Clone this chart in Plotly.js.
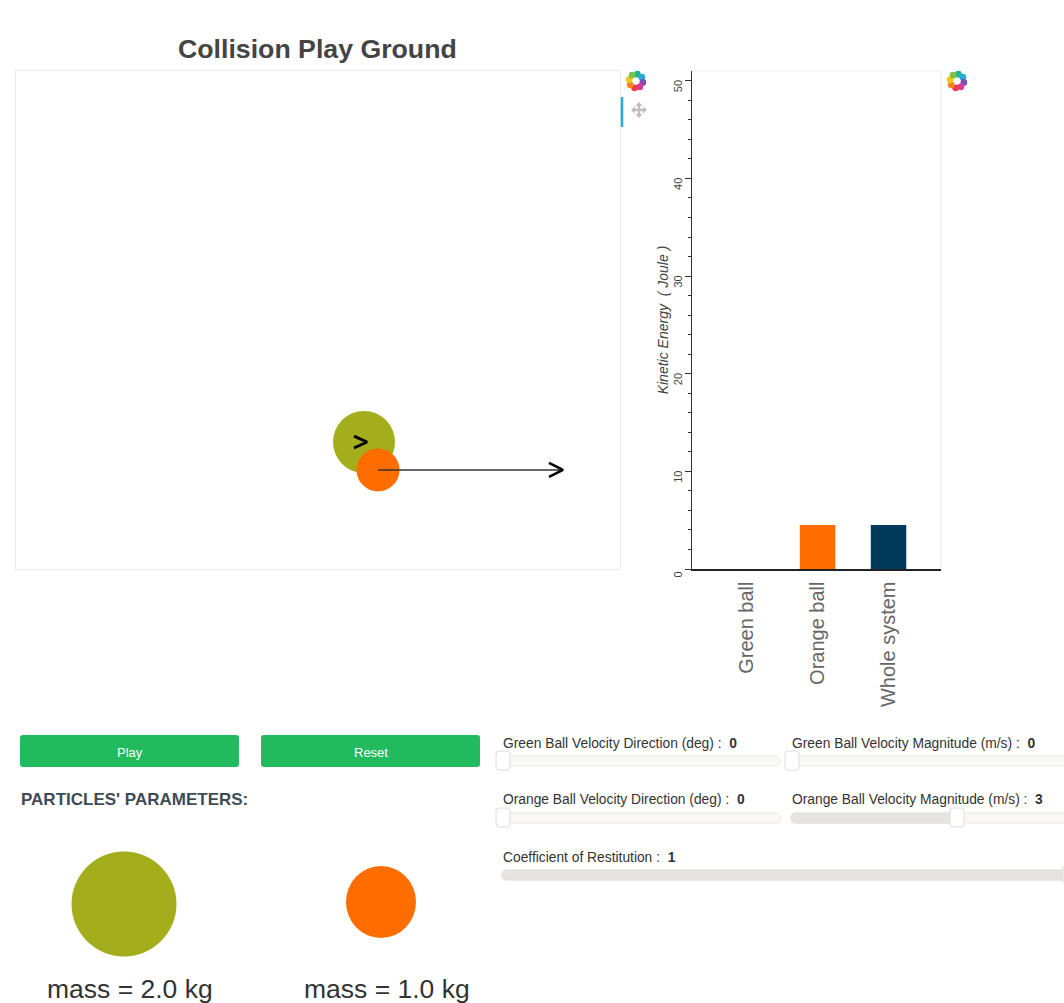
<!DOCTYPE html>
<html>
<head>
<meta charset="utf-8">
<script src="https://cdn.plot.ly/plotly-3.0.1.min.js"></script>
<style>html,body{margin:0;padding:0;background:#fff;overflow:hidden}#chart{width:1064px;height:1003px}</style>
</head>
<body>
<div id="chart"></div>
<script>
// ---- data ----
const categories = ['Green ball', 'Orange ball', 'Whole system'];
const kineticEnergy = [0, 4.5, 4.5];
const barColors = ['#A4AD1C', '#FF6C00', '#00395A'];
const greenBallX = [6.97];
const greenBallY = [2.55];
const orangeBallX = [7.25];
const orangeBallY = [1.99];
const orangeArrowX = [7.25, 10.93];
const orangeArrowY = [1.99, 1.99];
const orangeHeadX = [10.67, 10.95, 10.67];
const orangeHeadY = [2.13, 1.99, 1.85];
const greenHeadX = [6.77, 7.03, 6.77];
const greenHeadY = [2.67, 2.55, 2.43];
const yTicks = [0, 10, 20, 30, 40, 50];

const W = 1064, H = 1003;
const GREEN = '#A4AD1C', ORANGE = '#FF6C00';
const FONT = 'Liberation Sans, Arial, sans-serif';
const px = x => x / W, py = y => 1 - y / H;

function circle(cx, cy, rx, ry, color) {
  return {type:'circle', xref:'paper', yref:'paper', x0:px(cx-rx), x1:px(cx+rx), y0:py(cy+ry), y1:py(cy-ry),
          fillcolor:color, line:{width:0}, layer:'above'};
}
function rrect(x0, y0, x1, y1, r, fill, stroke) {
  const X = px, Y = py;
  const p = 'M' + X(x0+r) + ',' + Y(y0) + ' L' + X(x1-r) + ',' + Y(y0) +
    ' Q' + X(x1) + ',' + Y(y0) + ' ' + X(x1) + ',' + Y(y0+r) +
    ' L' + X(x1) + ',' + Y(y1-r) + ' Q' + X(x1) + ',' + Y(y1) + ' ' + X(x1-r) + ',' + Y(y1) +
    ' L' + X(x0+r) + ',' + Y(y1) + ' Q' + X(x0) + ',' + Y(y1) + ' ' + X(x0) + ',' + Y(y1-r) +
    ' L' + X(x0) + ',' + Y(y0+r) + ' Q' + X(x0) + ',' + Y(y0) + ' ' + X(x0+r) + ',' + Y(y0) + ' Z';
  return {type:'path', xref:'paper', yref:'paper', path:p, fillcolor:fill,
          line:{color:stroke || fill, width:stroke ? 1 : 0}, layer:'above'};
}
function seg(x0, y0, x1, y1, color, width) {
  return {type:'line', xref:'paper', yref:'paper', x0:px(x0), x1:px(x1), y0:py(y0), y1:py(y1),
          line:{color:color, width:width}, layer:'above'};
}
function tri(a, b, c, color) {
  const p = 'M' + px(a[0]) + ',' + py(a[1]) + ' L' + px(b[0]) + ',' + py(b[1]) + ' L' + px(c[0]) + ',' + py(c[1]) + ' Z';
  return {type:'path', xref:'paper', yref:'paper', path:p, fillcolor:color, line:{width:0}, layer:'above'};
}
function label(x, y, text, size, color, anchor, extra) {
  return Object.assign({xref:'paper', yref:'paper', x:px(x), y:py(y), text:text, showarrow:false,
    xanchor:anchor || 'left', yanchor:'middle', borderpad:0, font:{family:FONT, size:size, color:color}}, extra || {});
}
const logoColors = ['#1FB29A', '#2AA9D6', '#7B4FB0', '#D93A9A', '#EE3A4C', '#F7861E', '#F4C51F', '#7FC241'];
function logo(cx, cy) {
  return logoColors.map((c, i) => {
    const a = -Math.PI / 2 + i * Math.PI / 4 + 0.2;
    return circle(cx + 7 * Math.cos(a), cy + 7 * Math.sin(a), 3.4, 3.4, c);
  });
}
function slider(x0, x1, y, handle, filled) {
  const out = [rrect(x0, y-5, x1, y+5, 5, '#FAF9F7', '#E8E6E2')];
  if (filled) out.push(rrect(x0, y-5, handle, y+5, 5, '#E6E4E0', '#E2E0DC'));
  out.push(rrect(handle-7, y-10, handle+7, y+9, 3, '#FFFFFF', '#DEDCD8'));
  return out;
}

const traces = [
  {type:'scatter', mode:'markers', x:greenBallX, y:greenBallY, xaxis:'x', yaxis:'y',
   marker:{size:62, color:GREEN, line:{width:0}}},
  {type:'scatter', mode:'markers', x:orangeBallX, y:orangeBallY, xaxis:'x', yaxis:'y',
   marker:{size:43, color:ORANGE, line:{width:0}}},
  {type:'scatter', mode:'lines', x:orangeArrowX, y:orangeArrowY, xaxis:'x', yaxis:'y',
   line:{color:'#333', width:1.5}},
  {type:'scatter', mode:'lines', x:orangeHeadX, y:orangeHeadY, xaxis:'x', yaxis:'y',
   line:{color:'#000', width:2.5}},
  {type:'scatter', mode:'lines', x:greenHeadX, y:greenHeadY, xaxis:'x', yaxis:'y',
   line:{color:'#000', width:3}},
  {type:'bar', x:[0, 1, 2], y:kineticEnergy, xaxis:'x2', yaxis:'y2', width:0.5,
   marker:{color:barColors, line:{width:0}}}
];

const PAN = '#BDBDBD';
const shapes = [
  seg(622, 97, 622, 127, '#26AAE1', 2.5),
  seg(634, 110, 644, 110, PAN, 2.5),
  seg(639, 105, 639, 115, PAN, 2.5),
  tri([631, 110], [635, 106.5], [635, 113.5], PAN),
  tri([647, 110], [643, 106.5], [643, 113.5], PAN),
  tri([639, 102], [635.5, 106], [642.5, 106], PAN),
  tri([639, 118], [635.5, 114], [642.5, 114], PAN),
  seg(692, 71, 941, 71, '#EDEDED', 1),
  seg(941, 71, 941, 569, '#E6E6E6', 1)
].concat(
  logo(636, 81), logo(957, 81),
  [rrect(20, 735, 239, 767, 3, '#21BA5F'), rrect(261, 735, 480, 767, 3, '#21BA5F')],
  [circle(124, 904, 52.5, 52.5, GREEN), circle(381, 902, 35, 36, ORANGE)],
  slider(502, 780, 761, 503, false),
  slider(791, 1072, 761, 792, false),
  slider(502, 780, 818, 503, false),
  slider(791, 1072, 818, 957, true),
  slider(502, 1072, 875, 1070, true)
);

const LS = 13.8;
const annotations = [
  label(317.5, 49, '<b>Collision Play Ground</b>', 26.7, '#444', 'center'),
  label(129.5, 752, 'Play', 13, '#FFFFFF', 'center'),
  label(371, 752, 'Reset', 13, '#FFFFFF', 'center'),
  label(19.5, 799, "<b>PARTICLES' PARAMETERS:</b>", 17, '#3E4C57'),
  label(130, 989, 'mass = 2.0 kg', 26.5, '#333', 'center'),
  label(386.5, 989, 'mass = 1.0 kg', 26.5, '#333', 'center'),
  label(502, 743, 'Green Ball Velocity Direction (deg) :  <b>0</b>', LS, '#333'),
  label(791, 743, 'Green Ball Velocity Magnitude (m/s) :  <b>0</b>', LS, '#333'),
  label(502, 799, 'Orange Ball Velocity Direction (deg) :  <b>0</b>', LS, '#333'),
  label(791, 799, 'Orange Ball Velocity Magnitude (m/s) :  <b>3</b>', LS, '#333'),
  label(502, 857, 'Coefficient of Restitution :  <b>1</b>', LS, '#333')
];

const layout = {
  width:W, height:H, autosize:false, showlegend:false, hovermode:false,
  margin:{l:0, r:0, t:0, b:0, pad:0},
  paper_bgcolor:'#fff', plot_bgcolor:'#fff',
  font:{family:FONT},
  xaxis:{domain:[px(15.5), px(620)], range:[0, 12.09], anchor:'y', showgrid:false, zeroline:false,
         showticklabels:false, ticks:'', showline:true, mirror:true, linecolor:'#EAEAEA', linewidth:1},
  yaxis:{domain:[py(569), py(71)], range:[0, 10], anchor:'x', showgrid:false, zeroline:false,
         showticklabels:false, ticks:'', showline:true, mirror:true, linecolor:'#EAEAEA', linewidth:1},
  xaxis2:{domain:[px(692), px(941)], range:[-0.77, 2.74], anchor:'y2', showgrid:false, zeroline:false,
          tickmode:'array', tickvals:[0, 1, 2], ticktext:categories, tickangle:-90,
          ticks:'outside', ticklen:3, tickcolor:'rgba(0,0,0,0)',
          tickfont:{family:FONT, size:20, color:'#666'},
          showline:true, linecolor:'#222', linewidth:1.5},
  yaxis2:{domain:[py(569), py(71)], range:[0, 51], anchor:'x2', showgrid:false, zeroline:false,
          tickmode:'array', tickvals:yTicks, tickangle:-90, ticks:'outside', ticklen:6, tickcolor:'#333',
          minor:{dtick:2, ticks:'outside', ticklen:3, tickcolor:'#333'},
          tickfont:{family:FONT, size:11, color:'#444'},
          ticklabelshift:7, ticklabelstandoff:-2,
          showline:true, linecolor:'#333', linewidth:1.5,
          title:{text:'<i>Kinetic Energy  ( Joule )</i>', standoff:0, font:{family:FONT, size:14, color:'#444'}}},
  shapes:shapes,
  annotations:annotations
};

Plotly.newPlot('chart', traces, layout, {displayModeBar:false, staticPlot:true});
</script>
</body>
</html>
